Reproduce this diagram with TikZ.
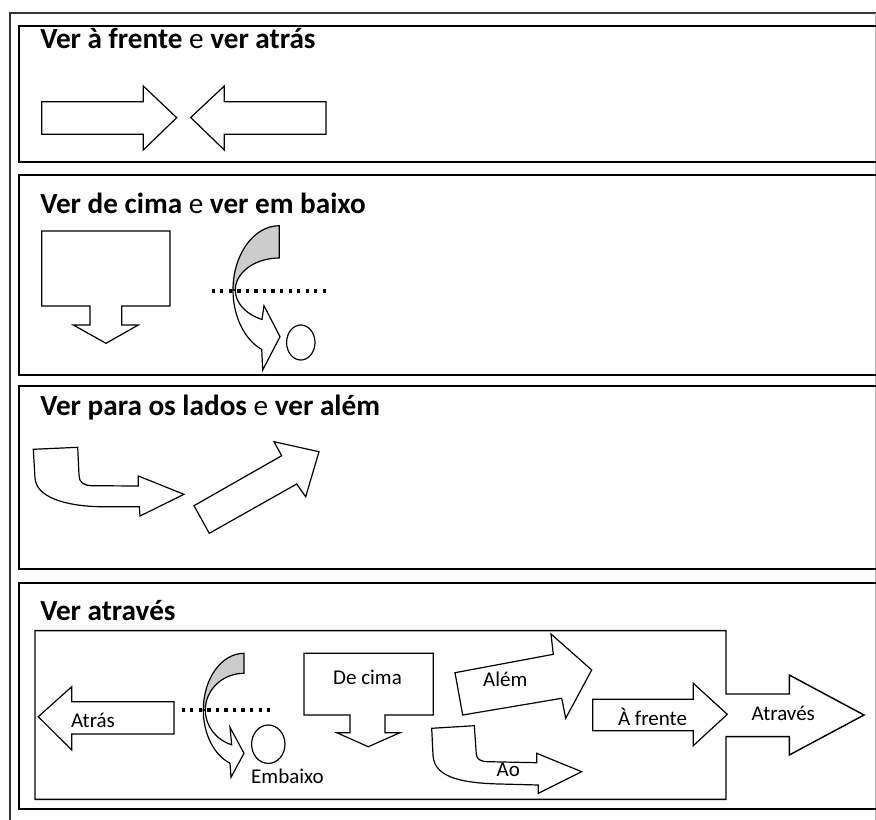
\documentclass[tikz,border=0pt]{standalone}
\usepackage{fontspec}
\setmainfont{Carlito}
\begin{document}
\begin{tikzpicture}[x=0.75pt,y=-0.75pt,line join=miter]
\tikzset{
 shp/.style={draw=black, line width=0.9pt, fill=white},
 band/.style={draw=black, line width=0.9pt},
 panel/.style={draw=black, line width=1.5pt},
 ttl/.style={anchor=base west, inner sep=0pt, font=\fontsize{21.9}{26}\selectfont},
 lbl/.style={anchor=base, inner sep=0pt, font=\fontsize{15.75}{19}\selectfont},
 dots/.style={draw=black, line width=2.6pt, dash pattern=on 2.4pt off 4pt},
}
\useasboundingbox (0,0) rectangle (876,819);
% outer frame
\draw[line width=1pt, draw=black!80] (10,830) -- (10,13) -- (880,13);
\draw[line width=1pt, draw=black!30] (875.5,13) -- (875.5,830);
% panels
\draw[panel] (880,26) -- (19,26) -- (19,162) -- (880,162);
\draw[panel] (880,175) -- (19,175) -- (19,375) -- (880,375);
\draw[panel] (880,386) -- (19,386) -- (19,569) -- (880,569);
\draw[panel] (880,583) -- (19,583) -- (19,809) -- (880,809);
% titles
\node[ttl] (t1) at (40,48) {\textbf{Ver à frente} e \textbf{ver atrás}};
\node[ttl] (t2) at (40,213.3) {\textbf{Ver de cima} e \textbf{ver em baixo}};
\node[ttl] (t3) at (40,415) {\textbf{Ver para os lados} e \textbf{ver além}};
\node[ttl] (t4) at (40,620.5) {\textbf{Ver através}};
% panel 1
\draw[shp] (41.7,101.7) -- (143.3,101.7) -- (143.3,86) -- (176.7,117.7) -- (143.3,150) -- (143.3,134.3) -- (41.7,134.3) -- cycle;
\draw[shp] (190.7,117.5) -- (224.3,86) -- (224.3,101.7) -- (326,101.7) -- (326,134.3) -- (224.3,134.3) -- (224.3,150) -- cycle;
% panel 2
\draw[shp] (41.7,231) -- (170,231) -- (170,306) -- (121.7,306) -- (121.7,325) -- (138.3,325) -- (106,343.3) -- (73.3,325) -- (90,325) -- (90,306) -- (41.7,306) -- cycle;
\filldraw[band, fill=black!20] (279.3,225.7) arc[start angle=-90,end angle=-180,x radius=46.3,y radius=64.3] -- (235.3,290) arc[start angle=180,end angle=270,x radius=44,y radius=32] -- cycle;
\draw[band, fill=white] (233,290) arc[start angle=180,end angle=112.3,x radius=46.3,y radius=64.3] -- (262.7,370) -- (280,336.7) -- (264,305.7) -- (262.0,319.4) arc[start angle=113.1,end angle=180,x radius=44,y radius=32] -- cycle;
\draw[dots] (211.7,291) -- (328.3,291);
\draw[shp] (300.8,342.5) ellipse[x radius=14.2, y radius=17.5];
% panel 3
\draw[shp] (33.3,449.3) -- (77.7,447.3) -- (79,475) .. controls (79,482) and (83,485.5) .. (92,485.7) -- (138.3,486) -- (138.3,476) -- (184,494.3) -- (140,516) -- (139.3,506.7) -- (100,506.7) .. controls (65,506) and (36,497) .. (35,478) -- cycle;
\draw[shp] (194,505.7) -- (281.7,455.7) -- (274,441.7) -- (319,451.7) -- (305.7,496.7) -- (296.7,484) -- (209.3,533.3) -- cycle;
% panel 4: frame with "Através" arrow
\draw[draw=black, line width=1.1pt] (726,694) -- (726,630.7) -- (35,630.7) -- (35,799.3) -- (726,799.3) -- (726,736.7) -- (789.3,736.7) -- (789.3,755) -- (864,715) -- (789.3,675) -- (789.3,694) -- cycle;
\node[lbl] (atraves) at (783.3,720) {Através};
% Atrás
\draw[shp] (38.3,716.7) -- (71.7,686.7) -- (71.7,701.7) -- (174,701.7) -- (174,734) -- (71.7,734) -- (71.7,750) -- cycle;
\node[lbl] (atras) at (93,727.7) {Atrás};
% curved arrow + circle
\filldraw[band, fill=black!20] (244,653.3) arc[start angle=-90,end angle=-180,x radius=40.7,y radius=56.7] -- (205.3,710) arc[start angle=180,end angle=270,x radius=38.7,y radius=36.7] -- cycle;
\draw[band, fill=white] (203.3,710) arc[start angle=180,end angle=110.1,x radius=40.7,y radius=56.7] -- (231,777.3) -- (244,753.3) -- (230,727.3) -- (231.7,744.8) arc[start angle=108.5,end angle=180,x radius=38.7,y radius=36.7] -- cycle;
\draw[dots] (181.7,710) -- (270,710);
\draw[shp] (268.3,744.2) ellipse[x radius=16.7, y radius=19.2];
\node[lbl] (embaixo) at (287.5,783.3) {Embaixo};
% De cima
\draw[shp] (304,653.3) -- (433.3,653.3) -- (433.3,715) -- (385,715) -- (385,732.7) -- (400,732.7) -- (368.3,746.7) -- (336.7,732.7) -- (350,732.7) -- (350,715) -- (304,715) -- cycle;
\node[lbl] (decima) at (367.5,684) {De cima};
% Além
\draw[shp] (455,672.7) -- (553.3,654.3) -- (551,634) -- (591.7,670) -- (565.7,718.3) -- (561.7,698.3) -- (462.7,715) -- cycle;
\node[lbl] (alem) at (505.3,686) {Além};
% Ao
\draw[shp] (431.7,728.3) -- (474.3,725.7) -- (476.3,754) .. controls (476.8,759) and (480,761.5) .. (488,761.7) -- (536.7,762.7) -- (536.7,753.3) -- (581.7,771.7) -- (538.3,793.3) -- (538.3,785) -- (500,784) .. controls (455,783) and (434,775) .. (433,755) -- cycle;
\node[lbl] (ao) at (508.3,776.7) {Ao};
% À frente
\draw[shp] (592.7,699.3) -- (693.3,699.3) -- (693.3,683.3) -- (727.3,714.3) -- (693.3,745.7) -- (693.3,730.7) -- (592.7,730.7) -- cycle;
\node[lbl] (afrente) at (652.5,725.7) {À frente};
\end{tikzpicture}
\end{document}
